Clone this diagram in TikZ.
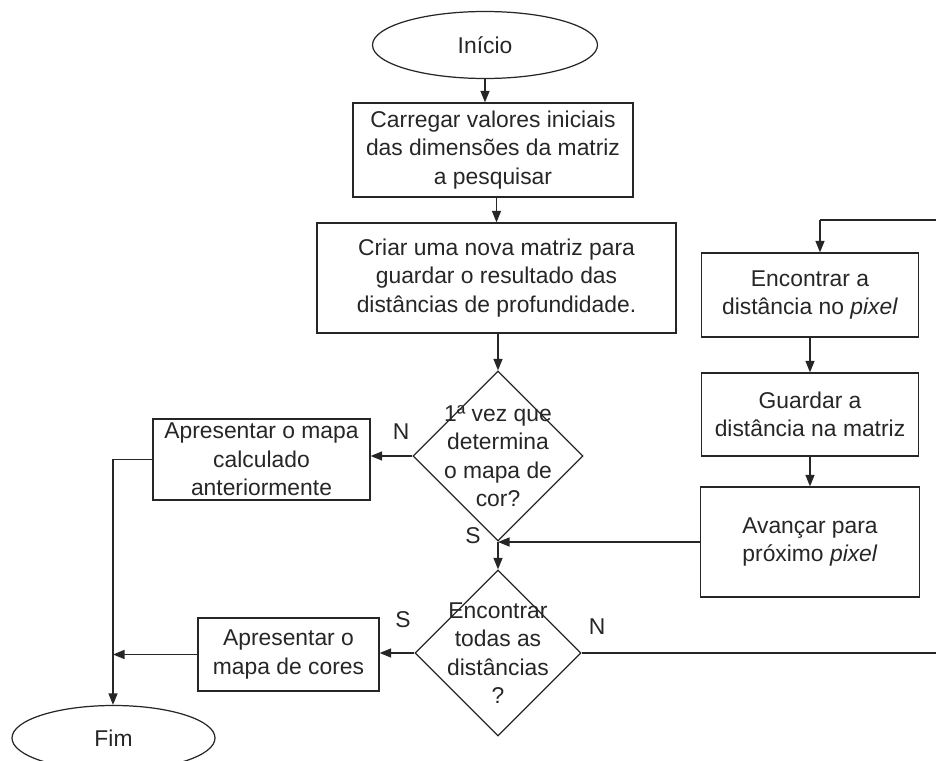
\documentclass[tikz,border=0pt]{standalone}
\usepackage{fontspec}
\setmainfont{Liberation Sans}
\usetikzlibrary{shapes.geometric,arrows.meta}
\tikzset{
  base/.style={draw=black!85, line width=0.7pt, text=black!85, align=center,
    font=\fontsize{13}{16.2}\selectfont, inner sep=2pt},
  term/.style={base, ellipse},
  proc/.style={base, rectangle},
  decision/.style={base, diamond, minimum width=#1, minimum height=#1, inner sep=0pt},
  qtext/.style={align=center, text=black!85, font=\fontsize{13}{16.2}\selectfont},
  flow/.style={draw=black!85, line width=0.7pt, -{Triangle[length=2.3mm,width=1.8mm]}},
  line/.style={draw=black!85, line width=0.7pt},
  yesno/.style={text=black!85, font=\fontsize{13}{16.2}\selectfont}
}
\begin{document}
\begin{tikzpicture}
\useasboundingbox (0,0) rectangle (18.72,15.2);
\clip (0,0) rectangle (18.72,15.2);
% main column
\node[term, minimum width=4.5cm, minimum height=1.34cm] (ini) at (9.7,14.3) {Início};
\node[proc, minimum width=5.6cm, minimum height=1.88cm] (car) at (9.86,12.2)
  {Carregar valores iniciais\\das dimensões da matriz\\a pesquisar};
\node[proc, minimum width=7.18cm, minimum height=2.2cm] (cri) at (9.93,9.64)
  {Criar uma nova matriz para\\guardar o resultado das\\distâncias de profundidade.};
\node[decision=3.4cm, label={[qtext]center:1ª vez que\\determina\\o mapa de\\cor?}] (d1) at (9.96,6.08) {};
\coordinate (jn) at (9.96,4.36);
\node[decision=3.32cm, label={[qtext]center:Encontrar\\todas as\\distâncias\\?}] (d2) at (9.96,2.14) {};
% left side
\node[proc, minimum width=4.34cm, minimum height=1.62cm] (ant) at (5.23,6.01)
  {Apresentar o mapa\\calculado\\anteriormente};
\node[proc, minimum width=3.62cm, minimum height=1.46cm] (cor) at (5.77,2.11)
  {Apresentar o\\mapa de cores};
\node[term, minimum width=4.06cm, minimum height=1.3cm] (fim) at (2.27,0.44) {Fim};
\coordinate (lc) at (2.26,6.01);
% loop on the right
\node[proc, minimum width=4.34cm, minimum height=1.68cm] (enc) at (16.2,9.3)
  {Encontrar a\\distância no \textit{pixel}};
\node[proc, minimum width=4.34cm, minimum height=1.66cm] (gua) at (16.2,6.91)
  {Guardar a\\distância na matriz};
\node[proc, minimum width=4.38cm, minimum height=2.2cm] (ava) at (16.2,4.36)
  {Avançar para\\próximo \textit{pixel}};
\coordinate (rb) at (18.75,2.14);
\coordinate (rt) at (18.75,10.8);
\coordinate (lt) at (16.4,10.8);

\draw[flow] (ini) -- (ini |- car.north);
\draw[flow] (car.south -| cri) -- (cri);
\draw[flow] (cri.south -| d1) -- (d1.north);
\draw[flow] (d1.south) -- (d2.north);
\draw[flow] (d1.west) -- (ant.east |- d1.west);
\draw[flow] (d2.west) -- (cor.east |- d2.west);
\draw[line] (ant.west) -- (lc);
\draw[flow] (lc) -- (fim.north -| lc);
\draw[flow] (cor.west) -- (lc |- cor.west);
\draw[line] (d2.east) -- (rb) -- (rt) -- (lt);
\draw[flow] (lt) -- (lt |- enc.north);
\draw[flow] (enc) -- (gua);
\draw[flow] (gua) -- (ava);
\draw[flow] (ava.west) -- (jn);
\node[yesno] (n1) at (8.02,6.56) {N};
\node[yesno] (s1) at (9.46,4.48) {S};
\node[yesno] (s2) at (8.06,2.8) {S};
\node[yesno] (n2) at (11.94,2.66) {N};
\end{tikzpicture}
\end{document}
